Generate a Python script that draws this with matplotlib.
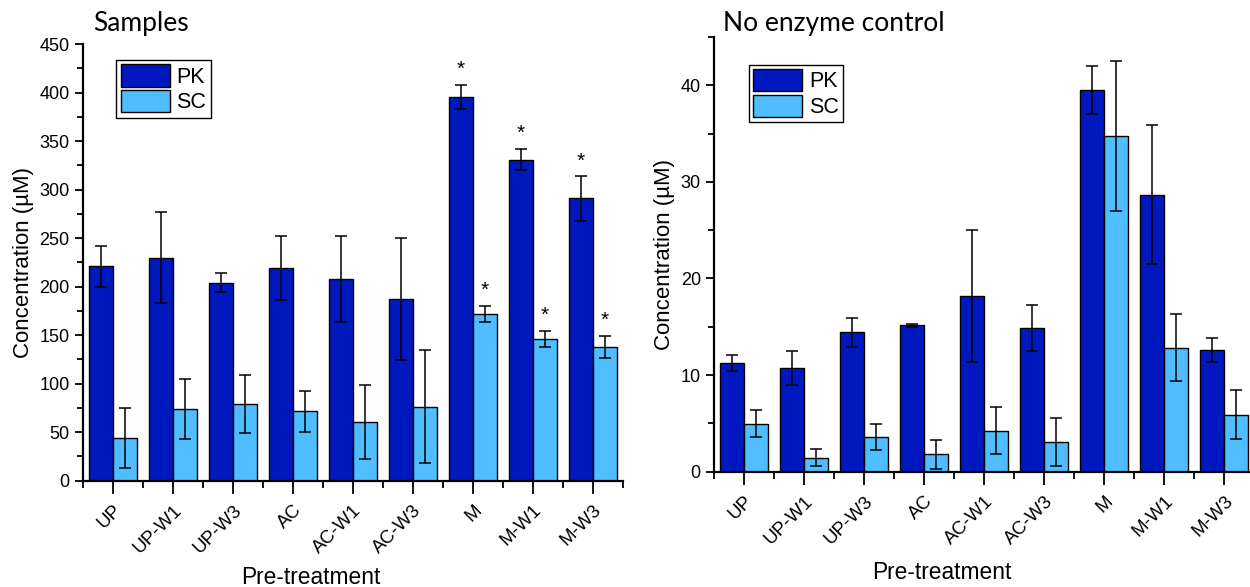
import matplotlib.pyplot as plt
import matplotlib.transforms as mtransforms
from matplotlib.ticker import MultipleLocator
import numpy as np

# -----------------------------
# Data
# -----------------------------
categories = ["UP", "UP-W1", "UP-W3", "AC", "AC-W1", "AC-W3", "M", "M-W1", "M-W3"]

samples_pk = [221, 230, 204, 219, 208, 187, 395.5, 331, 291]
samples_pk_err = [21, 47, 10, 33, 44.5, 63, 12.5, 11, 23]
samples_sc = [44, 74, 79, 71.5, 60.5, 76.5, 172, 146, 138]
samples_sc_err = [30.5, 30.5, 30, 21, 38, 58, 8.5, 8.5, 11.5]
samples_pk_sig = [6, 7, 8]
samples_sc_sig = [6, 7, 8]

control_pk = [11.25, 10.75, 14.45, 15.15, 18.2, 14.9, 39.5, 28.65, 12.6]
control_pk_err = [0.85, 1.75, 1.5, 0.12, 6.85, 2.4, 2.5, 7.2, 1.2]
control_sc = [4.95, 1.45, 3.6, 1.8, 4.25, 3.1, 34.75, 12.85, 5.9]
control_sc_err = [1.4, 0.9, 1.35, 1.5, 2.45, 2.5, 7.75, 3.5, 2.55]

PK_COLOR = "#0019BF"
SC_COLOR = "#4FBDFF"

plt.rcParams["font.family"] = ["Liberation Sans", "DejaVu Sans"]


def draw_panel(ax, pk, pk_err, sc, sc_err, ymax, major, minor,
               legend_anchor, xlabel_y, pk_sig=(), sc_sig=()):
    x = np.arange(len(categories))
    w = 0.4
    err_kw = dict(ecolor="black", elinewidth=1.1, capsize=4.5, capthick=1.1)
    ax.bar(x - w / 2, pk, w, yerr=pk_err, color=PK_COLOR, edgecolor="black",
           linewidth=1, label="PK", error_kw=err_kw, zorder=2)
    ax.bar(x + w / 2, sc, w, yerr=sc_err, color=SC_COLOR, edgecolor="black",
           linewidth=1, label="SC", error_kw=err_kw, zorder=2)

    # significance stars above the error bars
    for i in pk_sig:
        ax.annotate("*", (x[i] - w / 2, pk[i] + pk_err[i]), xytext=(0, 4),
                    textcoords="offset points", ha="center", va="bottom",
                    fontsize=15)
    for i in sc_sig:
        ax.annotate("*", (x[i] + w / 2, sc[i] + sc_err[i]), xytext=(0, 4),
                    textcoords="offset points", ha="center", va="bottom",
                    fontsize=15)

    ax.set_xlim(-0.5, len(categories) - 0.5)
    ax.set_ylim(0, ymax)
    ax.set_xticks(x)
    ax.set_xticks(np.arange(-0.5, len(categories), 1.0), minor=True)
    ax.set_xticklabels(categories, rotation=45, ha="right",
                       rotation_mode="anchor", fontsize=13.5)
    # nudge the rotated labels so their ends sit just right of each tick
    shift = mtransforms.ScaledTranslation(7 / 72, 0, ax.figure.dpi_scale_trans)
    for lab in ax.get_xticklabels():
        lab.set_transform(lab.get_transform() + shift)

    ax.yaxis.set_major_locator(MultipleLocator(major))
    ax.yaxis.set_minor_locator(MultipleLocator(minor))
    ax.tick_params(axis="y", which="major", direction="out", length=6,
                   width=1.3, labelsize=13)
    ax.tick_params(axis="y", which="minor", direction="out", length=4,
                   width=1.3)
    ax.tick_params(axis="x", which="major", direction="out", length=9,
                   width=1.3, pad=6)
    ax.tick_params(axis="x", which="minor", direction="out", length=5,
                   width=1.3)

    for side in ("top", "right"):
        ax.spines[side].set_visible(False)
    for side in ("left", "bottom"):
        ax.spines[side].set_linewidth(1.6)

    ax.set_ylabel("Concentration (\u00b5M)", fontsize=16)
    ax.set_xlabel("Pre-treatment", fontsize=16.4, va="baseline")
    ax.xaxis.set_label_coords(0.422, xlabel_y)

    leg = ax.legend(loc="upper left", bbox_to_anchor=legend_anchor,
                    borderaxespad=0, fontsize=15.5, handlelength=2.3,
                    handleheight=1.2, labelspacing=0.1, borderpad=0.2,
                    handletextpad=0.3, fancybox=False, framealpha=1,
                    edgecolor="black")
    leg.get_frame().set_linewidth(1.0)


fig = plt.figure(figsize=(12.5, 5.87), dpi=100)
ax1 = fig.add_axes([0.0662, 0.181, 0.4322, 0.744])
ax2 = fig.add_axes([0.5712, 0.1964, 0.4322, 0.7406])

draw_panel(ax1, samples_pk, samples_pk_err, samples_sc, samples_sc_err,
           450, 50, 25, (0.062, 0.963), -0.2365,
           pk_sig=samples_pk_sig, sc_sig=samples_sc_sig)
draw_panel(ax2, control_pk, control_pk_err, control_sc, control_sc_err,
           45, 10, 5, (0.064, 0.936), -0.247)

# panel titles sit on a shared baseline
fig.text(93 / 1250, 1 - 31 / 587, "Samples", family="Lato", fontsize=19,
         va="baseline", ha="left")
fig.text(723 / 1250, 1 - 31 / 587, "No enzyme control", family="Lato",
         fontsize=19, va="baseline", ha="left")

fig.savefig("out.png", dpi=100)
